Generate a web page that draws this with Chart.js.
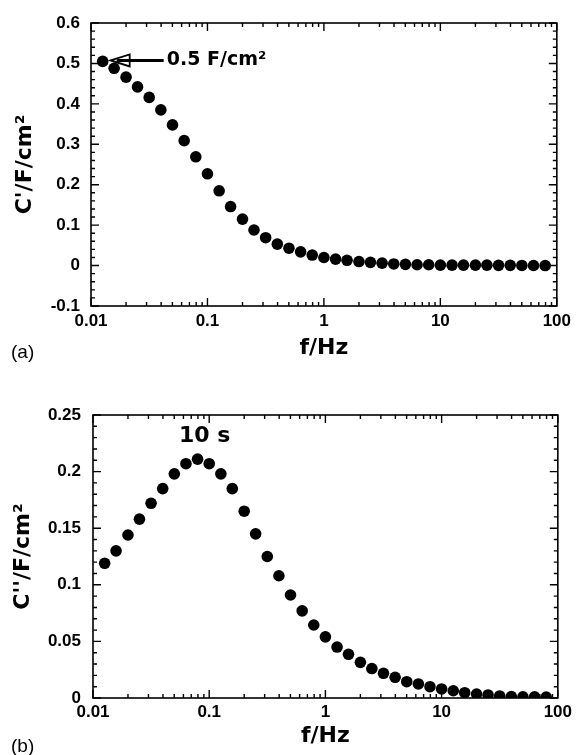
<!DOCTYPE html>
<html>
<head>
<meta charset="utf-8">
<script src="https://cdn.jsdelivr.net/npm/chart.js@4.4.0/dist/chart.umd.min.js"></script>
<style>
  body { margin: 0; background: #fff; width: 576px; height: 755px; overflow: hidden; }
  .panel { position: absolute; left: 0; width: 576px; }
  #wrapA { top: 0; height: 370px; }
  #wrapB { top: 380px; height: 375px; }
</style>
</head>
<body>
<div class="panel" id="wrapA"><canvas id="chartA"></canvas></div>
<div class="panel" id="wrapB"><canvas id="chartB"></canvas></div>
<script>
// frequencies, Hz (10 points per decade)
var freq = [0.0126, 0.0158, 0.02, 0.0251, 0.0316, 0.0398, 0.0501, 0.0631, 0.0794,
  0.1, 0.126, 0.158, 0.2, 0.251, 0.316, 0.398, 0.501, 0.631, 0.794,
  1, 1.26, 1.58, 2, 2.51, 3.16, 3.98, 5.01, 6.31, 7.94,
  10, 12.6, 15.8, 20, 25.1, 31.6, 39.8, 50.1, 63.1, 79.4];

// C' (F/cm2)
var cReal = [0.505, 0.488, 0.466, 0.442, 0.416, 0.385, 0.348, 0.309, 0.269,
  0.227, 0.185, 0.146, 0.115, 0.088, 0.069, 0.053, 0.043, 0.034, 0.026,
  0.020, 0.016, 0.013, 0.010, 0.008, 0.006, 0.004, 0.003, 0.002, 0.002,
  0.001, 0.001, 0.001, 0.001, 0.001, 0.0005, 0.0005, 0.0003, 0.0002, 0.0001];

// C'' (F/cm2)
var cImag = [0.119, 0.130, 0.144, 0.158, 0.172, 0.185, 0.198, 0.207, 0.211,
  0.207, 0.198, 0.185, 0.165, 0.145, 0.125, 0.108, 0.091, 0.077, 0.0645,
  0.054, 0.045, 0.0386, 0.0315, 0.026, 0.0218, 0.0183, 0.0144, 0.0124, 0.010,
  0.008, 0.0064, 0.0047, 0.0035, 0.0027, 0.0018, 0.0012, 0.001, 0.001, 0.0008];

var xTicks = [0.01, 0.1, 1, 10, 100];
var yTicksA = [-0.1, 0, 0.1, 0.2, 0.3, 0.4, 0.5, 0.6];
var yTicksB = [0, 0.05, 0.1, 0.15, 0.2, 0.25];

var tickFont = { family: "'Liberation Sans', Arial, sans-serif", weight: "bold", size: 17 };
var titleFont = { family: "'DejaVu Sans', sans-serif", weight: "bold", size: 22 };

// frame + inward ticks on all four sides
var frameTicks = {
  id: "frameTicks",
  afterDraw: function (chart, args, opts) {
    var ctx = chart.ctx, a = chart.chartArea;
    var xs = chart.scales.x, ys = chart.scales.y;
    ctx.save();
    ctx.strokeStyle = "#000";
    ctx.lineWidth = 1.6;
    ctx.strokeRect(a.left, a.top, a.right - a.left, a.bottom - a.top);
    ctx.lineWidth = 1.4;
    ctx.beginPath();
    // x: decades major, 2..9 minor
    for (var d = 0.01; d < 100; d *= 10) {
      for (var k = 1; k <= 10; k++) {
        var v = d * k;
        if (v > 100.0001) continue;
        var px = xs.getPixelForValue(v);
        var len = (k == 1 || k == 10) ? 8 : 4;
        ctx.moveTo(px, a.bottom); ctx.lineTo(px, a.bottom - len);
        ctx.moveTo(px, a.top); ctx.lineTo(px, a.top + len);
      }
    }
    // y: major at labels, minor steps
    var n = Math.round((ys.max - ys.min) / opts.minor);
    for (var i = 0; i <= n; i++) {
      var yv = ys.min + i * opts.minor;
      var py = ys.getPixelForValue(yv);
      var major = Math.abs(yv / opts.major - Math.round(yv / opts.major)) < 1e-6;
      var l = major ? 8 : 4;
      ctx.moveTo(a.left, py); ctx.lineTo(a.left + l, py);
      ctx.moveTo(a.right, py); ctx.lineTo(a.right - l, py);
    }
    ctx.stroke();
    ctx.restore();
  }
};

// panel letter and annotations
var notes = {
  id: "notes",
  afterDraw: function (chart, args, opts) {
    var ctx = chart.ctx;
    ctx.save();
    ctx.fillStyle = "#000";
    ctx.font = "19px 'Liberation Sans', Arial, sans-serif";
    ctx.textBaseline = "middle";
    ctx.textAlign = "left";
    ctx.fillText(opts.panel, 11, opts.panelY);
    var pt = chart.getDatasetMeta(0).data[opts.index];
    if (opts.arrow) {
      var px = pt.x, py = pt.y - 1;
      ctx.strokeStyle = "#000";
      ctx.lineWidth = 1.8;
      ctx.beginPath();
      ctx.moveTo(px + 8, py);
      ctx.lineTo(px + 27, py - 6);
      ctx.lineTo(px + 27, py + 6);
      ctx.closePath();
      ctx.stroke();
      ctx.lineWidth = 3;
      ctx.beginPath();
      ctx.moveTo(px + 14, py);
      ctx.lineTo(px + 61, py);
      ctx.stroke();
      ctx.font = "bold 19px 'DejaVu Sans', sans-serif";
      ctx.fillText(opts.text, px + 64, py);
    } else {
      ctx.font = "bold 22px 'DejaVu Sans', sans-serif";
      ctx.textAlign = "center";
      ctx.fillText(opts.text, pt.x + 7, pt.y - 23);
    }
    ctx.restore();
  }
};

function pairs(ys) {
  return freq.map(function (f, i) { return { x: f, y: ys[i] }; });
}

function makeChart(id, values, yMin, yMax, yStep, yTicks, yTitle, geo, noteOpts, minor) {
  return new Chart(document.getElementById(id), {
    type: "scatter",
    data: {
      datasets: [{
        data: pairs(values),
        backgroundColor: "#000",
        borderWidth: 0,
        pointRadius: 5.8,
        pointHoverRadius: 5.8
      }]
    },
    options: {
      responsive: true,
      maintainAspectRatio: false,
      animation: false,
      events: [],
      layout: { padding: { top: geo.top, right: geo.right, left: 0, bottom: 0 } },
      plugins: {
        legend: { display: false },
        tooltip: { enabled: false },
        frameTicks: { minor: minor, major: yStep },
        notes: noteOpts
      },
      scales: {
        x: {
          type: "logarithmic",
          min: 0.01,
          max: 100,
          grid: { display: false, drawTicks: false },
          border: { display: false },
          afterBuildTicks: function (s) { s.ticks = xTicks.map(function (v) { return { value: v }; }); },
          afterFit: function (s) { s.height = geo.xh; },
          ticks: {
            color: "#000", font: tickFont, padding: geo.xpad, maxRotation: 0, autoSkip: false,
            callback: function (v) { return String(v); }
          },
          title: { display: true, text: "f/Hz", color: "#000", font: titleFont, padding: { top: 0, bottom: geo.xtpad } }
        },
        y: {
          min: yMin,
          max: yMax,
          grid: { display: false, drawTicks: false },
          border: { display: false },
          afterBuildTicks: function (s) { s.ticks = yTicks.map(function (v) { return { value: v }; }); },
          afterFit: function (s) { s.width = geo.yw; },
          ticks: {
            color: "#000", font: tickFont, padding: geo.ypad,
            callback: function (v) { return String(+v.toFixed(2)); }
          },
          title: { display: true, text: yTitle, color: "#000", font: titleFont, padding: { top: geo.ytpad, bottom: 0 } }
        }
      }
    },
    plugins: [frameTicks, notes]
  });
}

makeChart("chartA", cReal, -0.1, 0.6, 0.1, yTicksA, "C'/F/cm²",
  { top: 23, right: 17, xh: 64, yw: 91, xpad: 5, xtpad: 9, ypad: 11, ytpad: 12 },
  { panel: "(a)", panelY: 353, index: 0, arrow: true, text: "0.5 F/cm²" }, 0.02);

makeChart("chartB", cImag, 0, 0.25, 0.05, yTicksB, "C''/F/cm²",
  { top: 35, right: 15, xh: 57, yw: 93, xpad: 4, xtpad: 6, ypad: 12, ytpad: 10 },
  { panel: "(b)", panelY: 367, index: 8, arrow: false, text: "10 s" }, 0.01);
</script>
</body>
</html>
